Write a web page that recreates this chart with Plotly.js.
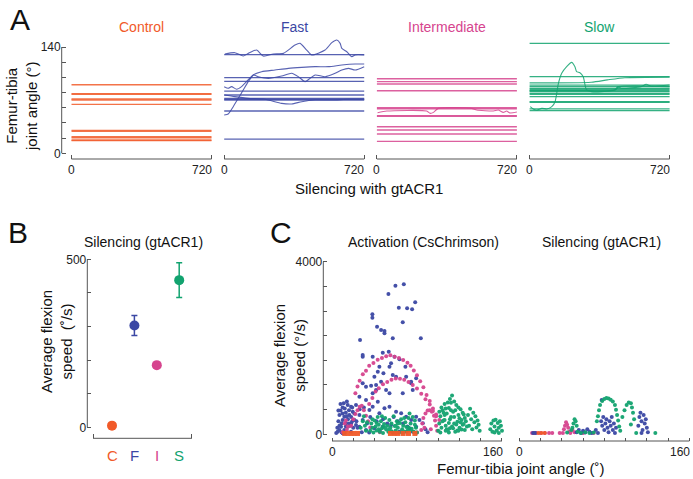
<!DOCTYPE html>
<html><head><meta charset="utf-8">
<script src="https://cdn.plot.ly/plotly-3.0.1.min.js"></script>
<style>html,body{margin:0;padding:0;background:#fff}#chart{width:693px;height:479px}</style>
</head><body><div id="chart"></div>
<script>
// ---------- Panel A data ----------
const timeRange = [0, 720];
const timeLabels = ['0', '720'];
const groupNames = ['Control', 'Fast', 'Intermediate', 'Slow'];
const groupColors = ['#F15A29', '#3B47A4', '#D6448E', '#12A36F'];

const controlFlat = [90.3, 78.5, 77.7, 71.5, 70.2, 64.5, 30.3, 29.0, 21.9, 20.5, 17.5, 16.6];
const fastFlat = [129.9, 99.6, 94.8, 82.0, 76.8, 72.4, 71.1, 70.2, 55.7, 18.8];
const intermediateFlat = [98.2, 94.3, 91.3, 82.4, 60.1, 58.7, 49.5, 48.7, 35.0, 30.7, 25.4, 15.8];
const slowFlat = [144.8, 100.9, 89.9, 87.8, 85.6, 84.3, 82.5, 81.2, 79.0, 77.6, 74.6, 68.0, 67.1, 58.4, 56.2];

const fastW1T = [3.4, 55, 97.9, 123.7, 166.7, 201, 252.6, 304.2, 364.3, 390.1, 424.4, 450.2, 518.9, 553.3, 579.1, 596.3, 604.9, 630.7, 656.4, 673.6, 720];
const fastW1A = [130.8, 132.5, 128.1, 131.6, 136.0, 128.1, 130.8, 131.6, 142.6, 144.8, 136.0, 129.5, 136.0, 145.7, 149.2, 144.8, 138.3, 133.8, 127.3, 129.5, 129.5];
const fastW2T = [0, 20.6, 46.4, 72.2, 97.9, 123.7, 149.5, 192.5, 261.2, 329.9, 398.7, 467.4, 536.1, 604.9, 673.6, 720];
const fastW2A = [50.5, 51.8, 61.4, 72.4, 83.4, 94.4, 103.2, 107.5, 109.7, 111.9, 113.2, 114.1, 114.1, 116.3, 117.6, 117.6];
const fastW3T = [0, 20.6, 37.8, 63.6, 89.4, 115.1, 149.5, 175.3, 226.8, 295.6, 347.1, 381.5, 415.8, 441.6, 467.4, 518.9, 570.5, 604.9, 639.2, 673.6, 720];
const fastW3A = [87.8, 85.6, 87.8, 84.3, 87.8, 94.4, 103.2, 100.9, 98.7, 101.8, 105.4, 100.9, 94.4, 98.7, 103.2, 100.9, 105.4, 109.7, 111.9, 109.7, 114.1];
const fastW4T = [0, 55, 123.7, 209.6, 295.6, 347.1, 398.7, 467.4, 553.3, 639.2, 720];
const fastW4A = [76.8, 74.6, 72.4, 71.1, 65.8, 65.0, 68.0, 70.2, 70.2, 71.1, 71.1];

const interW1T = [3.4, 51, 256, 274, 291, 316, 487, 513, 599, 624, 650, 667, 684, 720];
const interW1A = [53.5, 55.7, 55.7, 52.6, 53.9, 59.2, 59.2, 57.0, 55.7, 57.0, 53.9, 55.7, 53.2, 54.3];

const slowW1T = [3.4, 20.4, 37.4, 63, 88.5, 114, 131.1, 148.1, 165.1, 190.6, 216.2, 233.2, 241.7, 258.7, 275.7, 292.8, 318.3, 369.4, 437.4, 454.5, 471.5, 573.6, 599.1, 624.7, 720];
const slowW1A = [61.4, 57.9, 57.0, 59.2, 58.4, 61.4, 68.0, 92.1, 105.4, 114.1, 119.8, 114.1, 107.5, 106.2, 100.9, 83.4, 81.2, 81.2, 83.4, 87.8, 85.6, 87.8, 90.9, 88.6, 89.9];
const slowW2T = [0, 317, 400, 490, 720];
const slowW2A = [92.7, 93.6, 96.7, 99.6, 100.4];
const slowW3T = [0, 300, 440, 460, 720];
const slowW3A = [82.5, 82.5, 83.4, 87.8, 87.8];

// ---------- Panel B data ----------
const bCategories = ['C', 'F', 'I', 'S'];
const bMeans = [5, 303, 185, 438];
const bErrors = [0, 30, 8, 52];

// ---------- Panel C data: activation (CsChrimson) ----------
const angleTicks = [0, 20, 40, 60, 80, 100, 120, 140, 160];
const angleLabels = ['0', '160'];
const speedLabels = ['0', '4000'];

const actFastX = [67.6,59.7,53.1,78.3,70.7,62.9,75.4,38,38,66.6,42.4,46.2,49.4,83.6,26.4,57.2,49.4,28.9,28.9,38.3,47.8,53.4,58.8,63.5,55.6,44.6,69.1,48.4,57.2,74.5,74.5,28.9,32,36.8,41.5,46.2,38.3,41.5,50.9,54.1,66.6,76,25.8,32,43.1,22.6,14.8,17.9,19.5,16.3,11.6,10,13.2,8.5,6.9,11.6,14.8,21.1,25.8,35.2,38.3,44.6,49.4,54.1,60.3,65.1,69.8,74.5,79.2,82.3,85.5,79.2,72.9,55.6,47.8,39.9,32,25.8,28.9,22.6,17.9,5.3,10,63.5,76,43.1,54.1,60.3,69.8,79.2,39.9,6,7,8,9,12,13,15,16,18,19,20,7,9,12,4,28,33,36,42,48,52,58,62,67,71,88,90,35,45,57,5,6,8,10,11,13,14,16,17,19,21,23,10,14,18,24,26,30];
const actFastY = [3475,3444,3251,3058,2919,2934,2896,2780,2703,2595,2494,2417,2394,2224,2185,2224,2340,1838,1800,1800,1892,1915,1800,1737,1645,1568,1568,1413,1375,1220,1181,1181,1104,1127,1143,1220,950,1027,1027,950,950,1027,873,795,757,680,680,641,525,448,409,332,255,178,100,100,178,332,448,564,641,486,602,641,525,486,409,332,409,332,255,178,139,216,178,139,100,178,332,216,62,62,23,62,62,1452,1568,1336,1336,1297,1336,300,450,550,250,600,500,350,250,400,300,150,200,50,30,30,50,250,400,300,350,250,400,300,250,180,120,50,40,80,40,150,550,700,480,720,180,420,560,200,620,480,300,620,760,250,150,580,620];
const actInterX = [22,24,26,29,32,35,39,43,47,51,55,59,63,67,71,74,77,80,83,86,89,92,95,98,101,35,38,41,44,48,52,56,60,64,68,72,76,80,84,88,92,95,98,18,20,22,24,26,28,30,32,34,36,84,85,86,88,90,92,94,96,97,98,99,10,14,45,60,70,80,12,13,15,87,93];
const actInterY = [950,1110,1240,1390,1470,1590,1650,1730,1770,1810,1830,1800,1770,1720,1660,1590,1480,1370,1230,1090,910,770,600,460,330,700,840,990,1070,1160,1215,1265,1295,1285,1265,1215,1140,1060,940,815,690,540,420,200,350,470,560,640,660,560,430,300,160,100,250,380,480,550,560,520,430,320,200,80,50,100,50,30,60,40,250,320,180,150,120];
const actSlowX = [36,37,38,39,40,41,42,43,44,45,46,47,48,49,50,51,52,53,54,55,56,57,58,59,60,61,62,63,64,65,66,67,68,69,70,71,72,73,74,75,76,77,78,79,80,38,44,50,56,62,68,74,42,48,54,60,66,72,78,47,27,29,30,31,32,33,
  100,101,102,103,104,105,106,107,108,109,110,111,112,113,114,115,116,117,118,119,120,121,122,123,124,125,126,127,102,104,106,108,110,112,114,116,118,120,122,124,103,107,111,113,115,109,105,117,119,121,101,123,125,107,111,115,119,112,106,110,
  128,129,130,131,132,133,134,135,136,137,138,139,149,150,151,152,153,154,155,156,157,158,159,160,153,157];
const actSlowY = [80,250,150,40,320,180,90,400,220,60,300,140,30,240,380,110,200,60,330,160,250,40,420,190,90,300,150,40,260,350,120,200,60,280,170,80,380,480,250,130,400,60,220,150,40,350,120,150,70,250,380,90,260,180,120,200,40,160,320,420,150,300,420,200,80,280,
  80,250,420,150,560,320,700,200,480,90,610,350,730,180,520,400,60,680,290,450,150,580,330,220,460,100,300,180,40,300,450,120,260,400,140,560,90,370,110,240,620,600,820,900,760,740,500,230,620,280,520,500,380,80,140,250,80,560,330,40,
  450,200,590,350,120,500,280,420,160,320,220,80,120,250,60,320,180,340,90,260,150,300,200,80,40,30];
const actCtrlX = [12,15,18,21,24,55,59,62,67,72,78];
const actCtrlY = [20,20,20,20,20,20,20,20,20,20,20];

// ---------- Panel C data: silencing (gtACR1) ----------
const silInterX = [12,14,16,20,24,28,31,41,42,43,44,45,46,47,48,50,52,38,60,70];
const silInterY = [30,30,30,30,30,30,30,30,120,200,280,220,150,60,30,100,50,30,30,30];
const silCtrlX = [18,21,24];
const silCtrlY = [30,30,30];
const silFastX = [13,15,54,56,58,60,62,64,66,68,72,74,77.5,77,78,79,80,81,82,83,84,85,86,87,88,89,90,91,112,113,114,115,116,117,118,119,120,121,115];
const silFastY = [30,30,50,100,30,80,40,120,60,30,100,30,795,300,200,400,100,250,350,150,50,300,200,400,100,250,30,150,200,400,500,300,100,450,250,350,150,50,30];
const silSlowX = [73,74,75,76,78,80,82,84,86,88,90,91,92,93,94,95,97,99,101,103,105,106,107,108,105,128,50,51,52,53,54,49,55,58,62,66,70,45,110];
const silSlowY = [300,420,560,680,770,820,840,830,800,760,680,570,450,320,180,80,400,560,680,740,720,620,500,350,230,30,150,250,350,300,200,100,60,30,50,30,40,40,30];

// ---------- build ----------
const W = 693, H = 479;
const px = v => v / W;
const py = v => 1 - v / H;
const AX = '#555';
const FONT = 'Liberation Sans, Arial, Helvetica, sans-serif';

const traces = [];
const flatSets = [controlFlat, fastFlat, intermediateFlat, slowFlat];
const wiggles = [
  [],
  [[fastW1T, fastW1A], [fastW2T, fastW2A], [fastW3T, fastW3A], [fastW4T, fastW4A]],
  [[interW1T, interW1A]],
  [[slowW1T, slowW1A], [slowW2T, slowW2A], [slowW3T, slowW3A]]
];
flatSets.forEach((set, i) => {
  const xa = i === 0 ? 'x' : 'x' + (i + 1), ya = i === 0 ? 'y' : 'y' + (i + 1);
  set.forEach(v => traces.push({type: 'scatter', mode: 'lines', x: timeRange, y: [v, v], xaxis: xa, yaxis: ya,
    line: {color: groupColors[i], width: 1.3}, opacity: 0.85, hoverinfo: 'skip', showlegend: false}));
  wiggles[i].forEach(w => traces.push({type: 'scatter', mode: 'lines', x: w[0], y: w[1], xaxis: xa, yaxis: ya,
    line: {color: groupColors[i], width: 1.1, shape: 'spline', smoothing: 0.6}, opacity: 0.85, hoverinfo: 'skip', showlegend: false}));
});

// Panel B
bCategories.forEach((c, i) => {
  traces.push({type: 'scatter', mode: 'markers', x: [i], y: [bMeans[i]], xaxis: 'x5', yaxis: 'y5',
    marker: {color: groupColors[i], size: 10},
    error_y: {type: 'data', array: [bErrors[i]], visible: bErrors[i] > 0, color: groupColors[i], thickness: 1.5, width: 3},
    showlegend: false, hoverinfo: 'skip'});
});

function sc(x, y, col, xa, ya, size, symbol) {
  return {type: 'scatter', mode: 'markers', x: x, y: y, xaxis: xa, yaxis: ya,
    marker: {color: col, size: size || 4, symbol: symbol || 'circle', line: {width: 0}}, opacity: 0.95,
    showlegend: false, hoverinfo: 'skip', cliponaxis: false};
}
traces.push(sc(actFastX, actFastY, groupColors[1], 'x6', 'y6'));
traces.push(sc(actInterX, actInterY, groupColors[2], 'x6', 'y6'));
traces.push(sc(actSlowX, actSlowY, groupColors[3], 'x6', 'y6'));
traces.push(sc(actCtrlX, actCtrlY, groupColors[0], 'x6', 'y6', 5, 'square'));
traces.push(sc(silInterX, silInterY, groupColors[2], 'x7', 'y7'));
traces.push(sc(silFastX, silFastY, groupColors[1], 'x7', 'y7'));
traces.push(sc(silSlowX, silSlowY, groupColors[3], 'x7', 'y7'));
traces.push(sc(silCtrlX, silCtrlY, groupColors[0], 'x7', 'y7'));

const layout = {
  width: W, height: H, margin: {l: 0, r: 0, t: 0, b: 0},
  paper_bgcolor: '#fff', plot_bgcolor: 'rgba(0,0,0,0)',
  font: {family: FONT, color: '#222', size: 12},
  showlegend: false, shapes: [], annotations: []
};

const baseAx = {showgrid: false, zeroline: false, showline: false, tickcolor: AX, tickwidth: 1,
  tickfont: {family: FONT, size: 12, color: '#222'}, fixedrange: true};

function tickLabel(text, xref, x, yPx, anchor, shift) {
  layout.annotations.push({text: text, xref: xref, yref: 'paper', x: x, y: py(yPx), showarrow: false,
    xanchor: anchor, yanchor: 'middle', xshift: shift || 0, font: {family: FONT, size: 12, color: '#222'}});
}

// Panel A axes
const aT0 = [71.5, 224.2, 376.9, 529.6];
aT0.forEach((t0, i) => {
  const n = i === 0 ? '' : (i + 1);
  layout['xaxis' + n] = Object.assign({}, baseAx, {domain: [px(t0 - 9.8), px(t0 + 142)], range: [-50.4, 730.3],
    anchor: 'y' + n, tickvals: timeRange, ticks: 'inside', ticklen: 4, showticklabels: false});
  layout['yaxis' + n] = Object.assign({}, baseAx, {domain: [py(159), py(36)], range: [-7.5, 154.5], anchor: 'x' + n,
    tickvals: i === 0 ? [0, 20, 40, 60, 80, 100, 120, 140] : [], ticktext: ['0', '', '', '', '', '', '', '140'],
    ticks: i === 0 ? 'inside' : '', ticklen: 4, showticklabels: i === 0});
  layout.shapes.push({type: 'line', xref: 'x' + n, yref: 'y' + n + ' domain', x0: timeRange[0], x1: timeRange[1], y0: 0, y1: 0, line: {color: AX, width: 1}});
  tickLabel(timeLabels[0], 'x' + n, timeRange[0], 170, 'center');
  tickLabel(timeLabels[1], 'x' + n, timeRange[1], 170, 'right', 2);
  layout.annotations.push({text: groupNames[i], xref: 'x' + n, yref: 'paper', x: 360, y: py(27), showarrow: false,
    xanchor: 'center', yanchor: 'middle', font: {family: FONT, size: 14, color: groupColors[i]}});
});
layout.shapes.push({type: 'line', xref: 'x domain', yref: 'y', x0: 0, x1: 0, y0: 0, y1: 140, line: {color: AX, width: 1}});

// Panel B axes
layout.xaxis5 = Object.assign({}, baseAx, {domain: [px(87.3), px(194)], range: [-1.103, 3.661], anchor: 'y5',
  tickvals: [-0.848, 3.571], ticktext: ['', ''], ticks: 'inside', ticklen: 4});
layout.yaxis5 = Object.assign({}, baseAx, {domain: [py(438.3), py(255)], range: [-32.7, 512.8], anchor: 'x5',
  tickvals: [0, 100, 200, 300, 400, 500], ticktext: ['0', '', '', '', '', '500'], ticks: 'inside', ticklen: 4});
layout.shapes.push({type: 'line', xref: 'x5 domain', yref: 'y5', x0: 0, x1: 0, y0: 0, y1: 500, line: {color: AX, width: 1}});
layout.shapes.push({type: 'line', xref: 'x5', yref: 'y5 domain', x0: -0.848, x1: 3.571, y0: 0, y1: 0, line: {color: AX, width: 1}});
bCategories.forEach((c, i) => layout.annotations.push({text: c, xref: 'x5', yref: 'paper', x: i, y: py(455), showarrow: false,
  xanchor: 'center', yanchor: 'middle', font: {family: FONT, size: 15, color: groupColors[i]}}));

// Panel C axes
const cYTicks = [0, 1, 2, 3, 4, 5, 6, 7].map(k => k * 4000 / 7);
const cYText = cYTicks.map((v, k) => k === 0 ? speedLabels[0] : (k === 7 ? speedLabels[1] : ''));
layout.xaxis6 = Object.assign({}, baseAx, {domain: [px(323.3), px(504)], range: [-8.19, 161.9], anchor: 'y6',
  tickvals: angleTicks, ticks: 'inside', ticklen: 3, showticklabels: false});
layout.yaxis6 = Object.assign({}, baseAx, {domain: [py(441), py(255)], range: [-155, 4155], anchor: 'x6',
  tickvals: cYTicks, ticktext: cYText, ticks: 'inside', ticklen: 4});
layout.xaxis7 = Object.assign({}, baseAx, {domain: [px(511), px(692)], range: [-7.8, 162.5], anchor: 'y7',
  tickvals: angleTicks, ticks: 'inside', ticklen: 3, showticklabels: false});
layout.yaxis7 = Object.assign({}, baseAx, {domain: [py(441), py(255)], range: [-155, 4155], anchor: 'x7',
  tickvals: [], showticklabels: false});
layout.shapes.push({type: 'line', xref: 'x6 domain', yref: 'y6', x0: 0, x1: 0, y0: 0, y1: 4000, line: {color: AX, width: 1}});
layout.shapes.push({type: 'line', xref: 'x6', yref: 'y6 domain', x0: 0, x1: 160, y0: 0, y1: 0, line: {color: AX, width: 1}});
layout.shapes.push({type: 'line', xref: 'x7', yref: 'y7 domain', x0: 0, x1: 160, y0: 0, y1: 0, line: {color: AX, width: 1}});
['x6', 'x7'].forEach(xa => {
  tickLabel(angleLabels[0], xa, angleTicks[0], 452, 'center');
  tickLabel(angleLabels[1], xa, angleTicks[angleTicks.length - 1], 452, 'right', 3);
});

// Text annotations
const txt = (text, x, y, size, extra) => layout.annotations.push(Object.assign({text: text, xref: 'paper', yref: 'paper',
  x: px(x), y: py(y), showarrow: false, xanchor: 'center', yanchor: 'middle', font: {family: FONT, size: size, color: '#111'}}, extra || {}));
txt('A', 20, 19, 30);
txt('B', 18, 232, 30);
txt('C', 281, 232, 30);
txt('Femur-tibia<br>joint angle (°)', 21, 106, 15, {textangle: -90});
txt('Silencing with gtACR1', 369, 189, 15);
txt('Silencing (gtACR1)', 143, 242, 14);
txt('Average flexion<br>speed  (˚/s)', 56, 342, 15, {textangle: -90});
txt('Activation (CsChrimson)', 423, 242, 14);
txt('Silencing (gtACR1)', 601, 242, 14);
txt('Average flexion<br>speed (°/s)', 289, 356, 15, {textangle: -90});
txt('Femur-tibia joint angle (˚)', 521, 468, 15);

Plotly.newPlot('chart', traces, layout, {staticPlot: true, displayModeBar: false});
</script></body></html>
